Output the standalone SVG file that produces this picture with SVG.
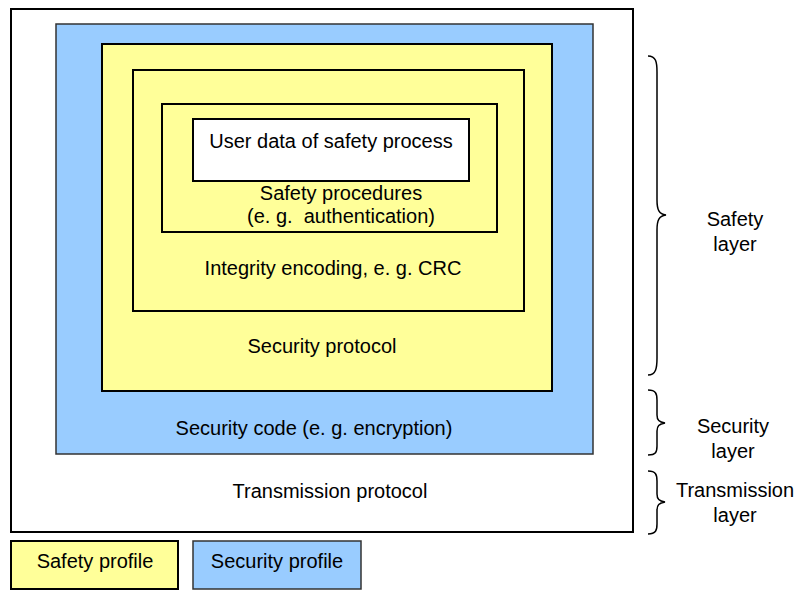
<svg xmlns="http://www.w3.org/2000/svg" width="797" height="590" viewBox="0 0 797 590">
  <style>
    .lbl { font-family: "Liberation Sans", Arial, sans-serif; font-size: 20px; fill: #000; text-anchor: middle; white-space: pre; }
    .safety { fill: #FFFF99; stroke: #000; stroke-width: 2; }
    .security { fill: #99CCFF; stroke: #333; stroke-width: 1.5; }
    .plain { fill: #fff; stroke: #000; stroke-width: 2; }
    .brace { fill: none; stroke: #000; stroke-width: 1.5; }
  </style>
  <rect width="797" height="590" fill="#fff"/>

  <!-- Nested encapsulation -->
  <g id="transmission-protocol">
    <rect class="plain" x="11" y="9" width="622" height="523"/>
    <text class="lbl" x="330" y="498">Transmission protocol</text>
  </g>
  <g id="security-code">
    <rect class="security" x="56" y="24" width="537" height="430"/>
    <text class="lbl" x="314" y="435">Security code (e. g. encryption)</text>
  </g>
  <g id="security-protocol">
    <rect class="safety" x="102" y="44" width="450" height="347"/>
    <text class="lbl" x="322" y="353">Security protocol</text>
  </g>
  <g id="integrity-encoding">
    <rect class="safety" x="133" y="70" width="391" height="241"/>
    <text class="lbl" x="333" y="275">Integrity encoding, e. g. CRC</text>
  </g>
  <g id="safety-procedures">
    <rect class="safety" x="162" y="104" width="335" height="128"/>
    <text class="lbl" x="341" y="200">Safety procedures</text>
    <text class="lbl" x="341" y="223">(e. g.  authentication)</text>
  </g>
  <g id="user-data">
    <rect class="plain" x="193" y="119" width="276" height="62"/>
    <text class="lbl" x="331" y="148">User data of safety process</text>
  </g>

  <!-- Layer braces -->
  <g id="connectors">
    <path class="brace" d="M648,56 C656,56 657,62 657,72 L657,200 C657,210 659,214 666,215 C659,216 657,220 657,230 L657,358 C657,368 656,375 648,375"/>
    <path class="brace" d="M648,390 C656,390 657,394 657,400 L657,415 C657,420 659,422 665,423 C659,424 657,426 657,431 L657,446 C657,452 656,455 648,455"/>
    <path class="brace" d="M648,471 C656,471 657,475 657,481 L657,494 C657,499 659,501 665,502 C659,503 657,505 657,510 L657,524 C657,530 656,534 648,534"/>
  </g>
  <g id="safety-layer">
    <text class="lbl" x="735" y="226">Safety</text>
    <text class="lbl" x="735" y="251">layer</text>
  </g>
  <g id="security-layer">
    <text class="lbl" x="733" y="433">Security</text>
    <text class="lbl" x="733" y="458">layer</text>
  </g>
  <g id="transmission-layer">
    <text class="lbl" x="735" y="497">Transmission</text>
    <text class="lbl" x="735" y="522">layer</text>
  </g>

  <!-- Legend -->
  <g id="legend-safety">
    <rect class="safety" x="11" y="541" width="167" height="48" stroke-width="1.5" stroke="#333"/>
    <text class="lbl" x="95" y="568">Safety profile</text>
  </g>
  <g id="legend-security">
    <rect class="security" x="193" y="541" width="168" height="48"/>
    <text class="lbl" x="277" y="568">Security profile</text>
  </g>
</svg>
